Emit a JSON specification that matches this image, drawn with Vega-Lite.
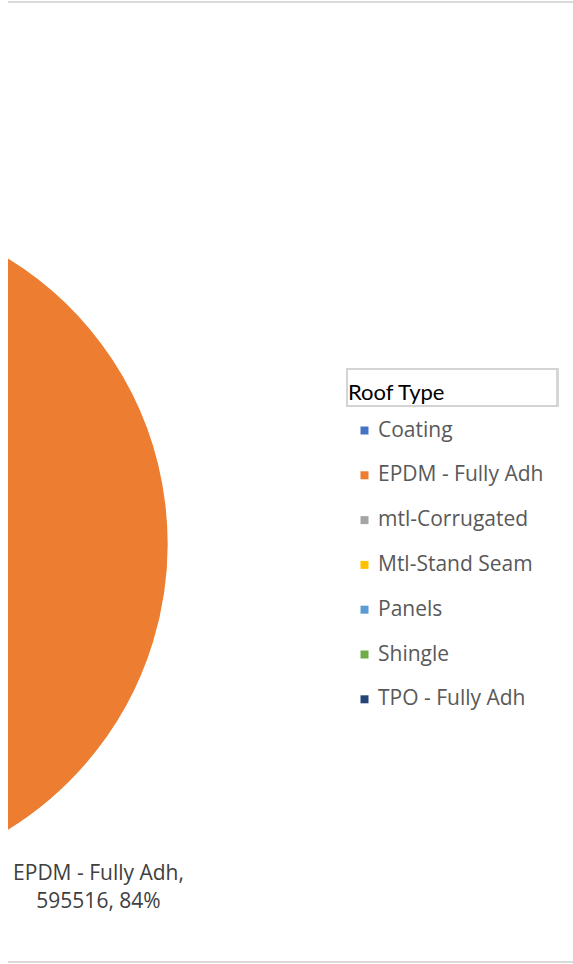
{
  "$schema": "https://vega.github.io/schema/vega-lite/v6.json",
  "autosize": {"type": "none"},
  "padding": {"left": 8, "top": 2, "right": 0, "bottom": 2},
  "width": 565,
  "height": 960,
  "background": "white",
  "config": {"view": {"stroke": null}},
  "data": {
    "values": [
      {"roof": "Coating", "area": 12000},
      {"roof": "EPDM - Fully Adh", "area": 595516},
      {"roof": "mtl-Corrugated", "area": 18000},
      {"roof": "Mtl-Stand Seam", "area": 22000},
      {"roof": "Panels", "area": 9000},
      {"roof": "Shingle", "area": 14000},
      {"roof": "TPO - Fully Adh", "area": 38000}
    ]
  },
  "layer": [
    {
      "mark": {"type": "rule", "stroke": "#d9d9d9", "strokeWidth": 1},
      "encoding": {
        "y": {"datum": 960, "type": "quantitative", "scale": {"domain": [0, 960], "nice": false, "zero": false}, "axis": null}
      }
    },
    {
      "mark": {"type": "rule", "stroke": "#d9d9d9", "strokeWidth": 1},
      "encoding": {
        "y": {"datum": 0, "type": "quantitative"}
      }
    },
    {
      "mark": {"type": "arc", "outerRadius": 336, "clip": true, "stroke": "white", "strokeWidth": 1.5},
      "encoding": {
        "theta": {"field": "area", "type": "quantitative", "stack": true},
        "color": {
          "field": "roof",
          "type": "nominal",
          "sort": ["Coating", "EPDM - Fully Adh", "mtl-Corrugated", "Mtl-Stand Seam", "Panels", "Shingle", "TPO - Fully Adh"],
          "scale": {
            "domain": ["Coating", "EPDM - Fully Adh", "mtl-Corrugated", "Mtl-Stand Seam", "Panels", "Shingle", "TPO - Fully Adh"],
            "range": ["#4472C4", "#ED7D31", "#A5A5A5", "#FFC000", "#5B9BD5", "#70AD47", "#264478"]
          },
          "legend": {
            "title": "Roof Type",
            "orient": "none",
            "legendX": 340,
            "legendY": 381,
            "titleFont": "Lato",
            "titleFontSize": 22,
            "titleFontWeight": "normal",
            "titleColor": "#000000",
            "titlePadding": 15,
            "labelFont": "Open Sans",
            "labelFontSize": 21,
            "labelColor": "#595959",
            "labelLimit": 400,
            "symbolType": "square",
            "symbolSize": 64,
            "symbolStrokeWidth": 0,
            "symbolOffset": 6,
            "labelOffset": 3,
            "rowPadding": 22.8
          }
        },
        "x": {"datum": -175.6, "type": "quantitative", "scale": {"domain": [0, 565], "nice": false, "zero": false}, "axis": null},
        "y": {"datum": 418, "type": "quantitative"}
      }
    },
    {
      "mark": {"type": "rect", "fill": null, "stroke": "#d4d4d4", "strokeWidth": 1.5},
      "encoding": {
        "x": {"datum": 339, "type": "quantitative"},
        "x2": {"datum": 549.5},
        "y": {"datum": 593, "type": "quantitative"},
        "y2": {"datum": 556}
      }
    },
    {
      "transform": [{"filter": "datum.roof == 'EPDM - Fully Adh'"}],
      "mark": {"type": "text", "font": "Open Sans", "fontSize": 21, "color": "#404040", "align": "center", "baseline": "alphabetic", "lineHeight": 28},
      "encoding": {
        "text": {"value": ["EPDM - Fully Adh,", "595516, 84%"]},
        "x": {"datum": 90.5, "type": "quantitative"},
        "y": {"datum": 82, "type": "quantitative"}
      }
    }
  ]
}
